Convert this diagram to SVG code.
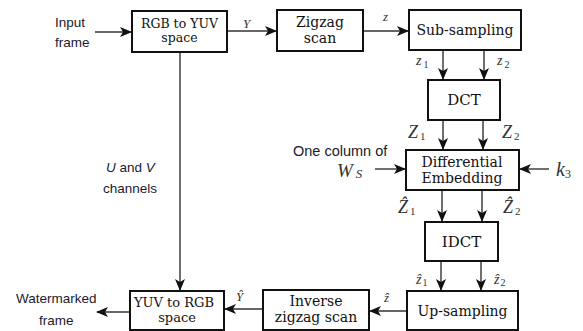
<svg xmlns="http://www.w3.org/2000/svg" width="583" height="331" viewBox="0 0 583 331">
<defs>
<style>
.box{fill:#fff;stroke:#111;stroke-width:2}
.lbl{font-family:"DejaVu Serif","Liberation Serif",serif;fill:#111;text-anchor:middle}
.side{font-family:"Liberation Sans",Arial,sans-serif;fill:#1a1a2e}
.var{font-family:"Liberation Serif","DejaVu Serif",serif;font-style:italic;fill:#333}
.sub{font-family:"Liberation Serif",serif;fill:#333}
.cn line,.cn path{stroke:#333;stroke-width:1.4;fill:none;marker-end:url(#ah)}
</style>
<marker id="ah" viewBox="0 0 12 10" markerWidth="12" markerHeight="10" refX="11" refY="5" orient="auto" markerUnits="userSpaceOnUse">
<path d="M0,0 L12,5 L0,10 L3,5 z" fill="#111"/>
</marker>
</defs>
<rect width="583" height="331" fill="#fff"/>

<g class="cn" id="connectors">
<line x1="95" y1="32" x2="131" y2="32"/>
<line x1="227" y1="31" x2="276" y2="31"/>
<line x1="363" y1="31" x2="408" y2="31"/>
<line x1="443" y1="50" x2="443" y2="79"/>
<line x1="484" y1="50" x2="484" y2="79"/>
<line x1="443" y1="120" x2="443" y2="149"/>
<line x1="483" y1="120" x2="483" y2="149"/>
<line x1="375" y1="169" x2="405" y2="169"/>
<line x1="549" y1="169" x2="520" y2="169"/>
<line x1="442" y1="190" x2="442" y2="221"/>
<line x1="482" y1="190" x2="482" y2="221"/>
<line x1="441" y1="261" x2="441" y2="290"/>
<line x1="481" y1="261" x2="481" y2="290"/>
<line x1="407" y1="311" x2="370" y2="311"/>
<line x1="263" y1="309" x2="225" y2="309"/>
<line x1="130" y1="312" x2="97" y2="312"/>
<line x1="180" y1="52" x2="180" y2="290"/>
</g>

<g id="rgb2yuv"><rect class="box" x="132" y="11" width="95" height="41"/>
<text class="lbl" x="179.5" y="28" font-size="12.5">RGB to YUV</text>
<text class="lbl" x="179.5" y="42" font-size="12.5">space</text></g>

<g id="zigzag"><rect class="box" x="277" y="10" width="86" height="41"/>
<text class="lbl" x="320" y="27" font-size="14">Zigzag</text>
<text class="lbl" x="320" y="43" font-size="14">scan</text></g>

<g id="subsampling"><rect class="box" x="409" y="10" width="112" height="40"/>
<text class="lbl" x="465" y="35" font-size="14">Sub-sampling</text></g>

<g id="dct"><rect class="box" x="428" y="80" width="72" height="40"/>
<text class="lbl" x="464" y="105" font-size="15">DCT</text></g>

<g id="embedding"><rect class="box" x="406" y="150" width="113" height="40"/>
<text class="lbl" x="462" y="167" font-size="14">Differential</text>
<text class="lbl" x="462" y="183" font-size="14">Embedding</text></g>

<g id="idct"><rect class="box" x="425" y="222" width="73" height="39"/>
<text class="lbl" x="461.5" y="247" font-size="15">IDCT</text></g>

<g id="upsampling"><rect class="box" x="407" y="291" width="111" height="39"/>
<text class="lbl" x="462.5" y="316" font-size="14">Up-sampling</text></g>

<g id="invzigzag"><rect class="box" x="263" y="290" width="106" height="40"/>
<text class="lbl" x="316" y="306" font-size="14">Inverse</text>
<text class="lbl" x="316" y="322" font-size="14">zigzag scan</text></g>

<g id="yuv2rgb"><rect class="box" x="130" y="291" width="94" height="39"/>
<text class="lbl" x="174" y="307" font-size="13">YUV to RGB</text>
<text class="lbl" x="177" y="322" font-size="13">space</text></g>

<g id="labels">
<text class="side" x="55" y="27" font-size="13.5">Input</text>
<text class="side" x="55" y="47" font-size="13.5">frame</text>
<text class="side" x="16" y="303" font-size="13.5">Watermarked</text>
<text class="side" x="39" y="325" font-size="13.5">frame</text>
<text class="side" x="106" y="172" font-size="13.5"><tspan font-style="italic">U</tspan> and <tspan font-style="italic">V</tspan></text>
<text class="side" x="103" y="193" font-size="13.5">channels</text>
<text class="side" x="293" y="156" font-size="14.5">One column of</text>
<text class="var" x="337" y="177" font-size="19" fill="#111">W<tspan font-size="13" dx="3" dy="1">S</tspan></text>
<text class="var" x="556" y="176" font-size="20" fill="#111">k<tspan class="sub" font-style="normal" font-size="12" dy="2">3</tspan></text>
<text class="var" x="243" y="28" font-size="13" fill="#1a1a2e">Y</text>
<text class="var" x="383" y="21" font-size="13">z</text>
<text class="var" x="416" y="65" font-size="14">z<tspan class="sub" font-style="normal" font-size="10" dx="2" dy="3">1</tspan></text>
<text class="var" x="497" y="65" font-size="14">z<tspan class="sub" font-style="normal" font-size="10" dx="2" dy="3">2</tspan></text>
<text class="var" x="408" y="138" font-size="18" fill="#111">Z<tspan class="sub" font-style="normal" font-size="11" dx="2" dy="2">1</tspan></text>
<text class="var" x="502" y="138" font-size="18" fill="#111">Z<tspan class="sub" font-style="normal" font-size="11" dx="2" dy="2">2</tspan></text>
<text class="var" x="398" y="213" font-size="18" fill="#111">Ẑ<tspan class="sub" font-style="normal" font-size="11" dx="2" dy="2">1</tspan></text>
<text class="var" x="503" y="213" font-size="18" fill="#111">Ẑ<tspan class="sub" font-style="normal" font-size="11" dx="2" dy="2">2</tspan></text>
<text class="var" x="416" y="284" font-size="14">ẑ<tspan class="sub" font-style="normal" font-size="10" dx="1" dy="2">1</tspan></text>
<text class="var" x="494" y="284" font-size="14">ẑ<tspan class="sub" font-style="normal" font-size="10" dx="1" dy="2">2</tspan></text>
<text class="var" x="384" y="302" font-size="13">ẑ</text>
<text class="var" x="236" y="301" font-size="13" fill="#1a1a2e">Ŷ</text>
</g>
</svg>
